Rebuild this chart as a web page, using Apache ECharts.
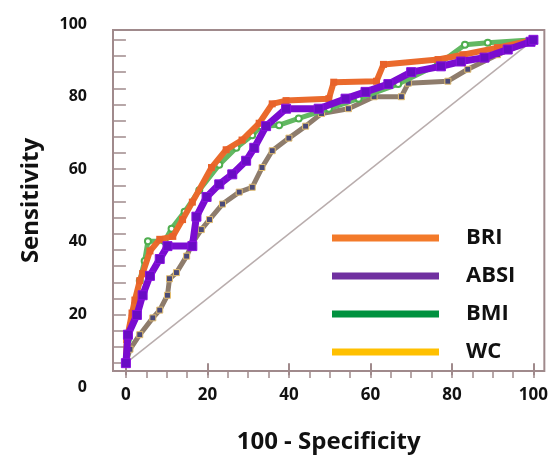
<!DOCTYPE html>
<html>
<head>
<meta charset="utf-8">
<script src="https://cdn.jsdelivr.net/npm/echarts@6/dist/echarts.min.js"></script>
<style>html,body{margin:0;padding:0;background:#fff}#c{width:551px;height:459px}</style>
</head>
<body>
<div id="c"></div>
<script>
// ---- data ----
var seriesNames = ['BRI', 'ABSI', 'BMI', 'WC'];
var xTickLabels = [0, 20, 40, 60, 80, 100];
var yTickLabels = [0, 20, 40, 60, 80, 100];
var minorTicks = [0,5,10,15,20,25,30,35,40,45,50,55,60,65,70,75,80,85,90,95,100];

var briX = [0, 0.2, 1.5, 2.2, 3.4, 4.1, 5.9, 8.3, 11.5, 13.9, 16.3, 21.0, 24.6, 28.5, 32.7, 35.9, 39.3, 49.8, 51.0, 61.5, 63.2, 76.6, 82.7, 91.2, 100];
var briY = [0, 7.3, 15.5, 19.5, 25.5, 27.7, 34.7, 38.3, 39.2, 44.4, 49.8, 60.5, 66.0, 69.0, 74.2, 80.2, 81.2, 81.8, 86.9, 87.2, 92.4, 93.9, 95.4, 97.6, 100];

var absiX = [0, 0.5, 2.7, 4.1, 5.9, 8.3, 10.2, 16.3, 17.3, 19.8, 22.9, 26.1, 29.5, 31.5, 34.4, 39.3, 47.3, 53.9, 58.8, 64.4, 70.0, 77.3, 82.2, 88.0, 93.7, 99.3, 100];
var absiY = [0, 8.8, 14.9, 21.0, 27.0, 32.2, 36.2, 36.2, 45.3, 51.4, 55.3, 58.4, 62.6, 66.6, 73.3, 78.7, 78.7, 81.8, 83.9, 86.3, 90.0, 91.8, 93.3, 94.5, 97.0, 99.4, 100];

var bmiX = [0, 0.5, 2.2, 3.4, 4.6, 5.4, 9.5, 11.2, 14.4, 18.0, 22.9, 27.1, 31.0, 33.2, 37.6, 42.4, 49.8, 57.1, 66.8, 76.6, 83.2, 88.8, 100];
var bmiY = [0, 7.3, 18.0, 25.5, 31.6, 37.7, 37.7, 41.6, 46.8, 53.5, 61.4, 66.6, 70.5, 73.3, 73.6, 75.7, 78.7, 81.8, 86.3, 92.4, 98.5, 99.1, 100];

var wcX = [0, 1.0, 3.4, 6.6, 8.3, 10.2, 10.7, 12.4, 14.9, 16.3, 18.5, 20.5, 23.7, 27.8, 31.0, 33.4, 35.9, 40.0, 44.1, 48.0, 54.6, 60.9, 67.6, 69.3, 79.0, 83.9, 91.2, 100];
var wcY = [0, 4.3, 8.8, 14.0, 16.4, 21.0, 26.1, 28.0, 33.1, 37.1, 41.3, 44.4, 49.2, 52.9, 54.4, 60.5, 65.7, 69.6, 73.3, 77.2, 78.7, 82.4, 82.4, 86.6, 87.2, 90.9, 95.4, 100];

var refX = [0, 100];
var refY = [0, 100];

function zip(xs, ys) { return xs.map(function (x, i) { return [x, ys[i]]; }); }

var axisCol = '#a08a8c';
var fontFam = '"Open Sans", "Liberation Sans", sans-serif';

var chart = echarts.init(document.getElementById('c'), null, { renderer: 'canvas' });
chart.setOption({
  animation: false,
  backgroundColor: '#ffffff',
  grid: [
    { left: 113, right: 4, top: 30, bottom: 82, show: true, borderColor: axisCol, borderWidth: 2, backgroundColor: 'transparent' },
    { left: 113, right: 4, top: 24, bottom: 72, show: false }
  ],
  xAxis: [
    {
      gridIndex: 0, type: 'value', min: -3.17, max: 102.68, position: 'bottom',
      name: '100 - Specificity', nameLocation: 'middle', nameGap: 59,
      nameTextStyle: { fontSize: 24, fontWeight: 'bold', color: '#111', fontFamily: fontFam },
      axisLine: { show: false },
      axisTick: { show: true, inside: false, length: 12, customValues: xTickLabels, lineStyle: { color: axisCol, width: 2 } },
      axisLabel: { show: true, customValues: xTickLabels, margin: 16, fontSize: 17, fontWeight: 'bold', color: '#111', fontFamily: fontFam },
      splitLine: { show: false }
    },
    {
      gridIndex: 0, type: 'value', min: -3.17, max: 102.68, position: 'bottom', offset: 0,
      axisLine: { show: false },
      axisTick: { show: true, inside: false, length: 7, customValues: minorTicks, lineStyle: { color: axisCol, width: 1.5 } },
      axisLabel: { show: false },
      splitLine: { show: false }
    },
    { gridIndex: 1, type: 'value', min: 0, max: 100, show: false }
  ],
  yAxis: [
    {
      gridIndex: 0, type: 'value', min: -2.43, max: 103.04,
      name: 'Sensitivity', nameLocation: 'middle', nameGap: 70, nameRotate: 90,
      nameTextStyle: { fontSize: 24, fontWeight: 'bold', color: '#111', fontFamily: fontFam },
      axisLine: { show: false },
      axisTick: { show: true, inside: false, length: 12, customValues: minorTicks, lineStyle: { color: axisCol, width: 1.5 } },
      axisLabel: { show: false },
      splitLine: { show: false }
    },
    {
      gridIndex: 1, type: 'value', min: 0, max: 100,
      axisLine: { show: false },
      axisTick: { show: false },
      axisLabel: { show: true, customValues: yTickLabels, margin: 26, fontSize: 16, fontWeight: 'bold', color: '#111', fontFamily: fontFam },
      splitLine: { show: false }
    }
  ],
  legend: {
    orient: 'vertical', left: 332, top: 227, padding: 0, itemGap: 16,
    itemWidth: 107, itemHeight: 7, icon: 'rect',
    itemStyle: { borderWidth: 0 },
    textStyle: { fontSize: 22, fontWeight: 'bold', color: '#111', fontFamily: fontFam, lineHeight: 22, padding: [0, 0, 0, 22] },
    data: [
      { name: seriesNames[0], itemStyle: { color: '#f37a2a' } },
      { name: seriesNames[1], itemStyle: { color: '#7030a0' } },
      { name: seriesNames[2], itemStyle: { color: '#00923f' } },
      { name: seriesNames[3], itemStyle: { color: '#ffc000' } }
    ]
  },
  series: [
    {
      name: 'ref', type: 'line', xAxisIndex: 0, yAxisIndex: 0, data: zip(refX, refY),
      symbol: 'none', lineStyle: { color: '#b9adad', width: 1.5 }, silent: true, z: 1
    },
    {
      name: seriesNames[3], type: 'line', xAxisIndex: 0, yAxisIndex: 0, data: zip(wcX, wcY),
      symbol: 'rect', symbolSize: 6, itemStyle: { color: '#4a4a78', borderColor: '#e6c070', borderWidth: 1 },
      lineStyle: { color: '#8e7c6c', width: 5 }, z: 2
    },
    {
      name: seriesNames[2], type: 'line', xAxisIndex: 0, yAxisIndex: 0, data: zip(bmiX, bmiY),
      symbol: 'emptyCircle', symbolSize: 6, itemStyle: { color: '#4fae4f', borderColor: '#4fae4f', borderWidth: 2 },
      lineStyle: { color: '#62b862', width: 5 }, z: 3
    },
    {
      name: seriesNames[0], type: 'line', xAxisIndex: 0, yAxisIndex: 0, data: zip(briX, briY),
      symbol: 'rect', symbolSize: 7, itemStyle: { color: '#e8622a' },
      lineStyle: { color: '#ea6a2c', width: 6 }, z: 4
    },
    {
      name: seriesNames[1], type: 'line', xAxisIndex: 0, yAxisIndex: 0, data: zip(absiX, absiY),
      symbol: 'rect', symbolSize: 9, itemStyle: { color: '#6a0cc4', borderColor: '#8a10e0', borderWidth: 1 },
      lineStyle: { color: '#7a0cd0', width: 7 }, z: 5
    }
  ]
});
</script>
</body>
</html>
